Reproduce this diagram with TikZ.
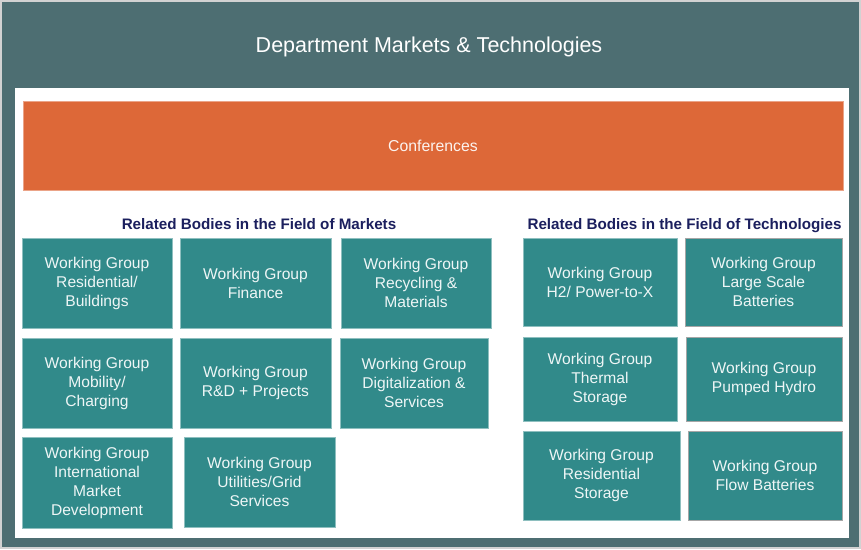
\documentclass[tikz,border=0pt]{standalone}
\usepackage{fontspec}
\setmainfont{Liberation Sans}
\definecolor{slate}{HTML}{4D6E72}
\definecolor{orangebar}{HTML}{DD6838}
\definecolor{wgteal}{HTML}{318A8A}
\definecolor{navy}{HTML}{1B1F5E}
\tikzset{
  wgbox/.style={fill=wgteal, draw=wgteal!55!white, line width=0.8pt, text=white!92!wgteal,
    align=center, inner sep=0pt, font=\fontsize{15.6}{19}\selectfont},
  heading/.style={text=navy, anchor=base, font=\fontsize{15.2}{18}\selectfont\bfseries}
}
\begin{document}
\begin{tikzpicture}[x=1pt, y=-1pt]
\useasboundingbox (0,0) rectangle (861,549);
% Rahmen
\filldraw[fill=slate, draw=gray!35, line width=1.5pt] (1,1) rectangle (860,548);
\fill[white] (15,88) rectangle (849,538);
\node[text=white, font=\fontsize{21.5}{25}\selectfont] (title) at (429,47) {Department Markets \& Technologies};

% Konferenzen
\node[fill=orangebar, draw=orangebar!60!white, line width=0.8pt, minimum width=820, minimum height=89,
  text=white!92!orangebar, font=\fontsize{15.8}{19}\selectfont] (conf) at (433,146) {Conferences};

% Märkte
\node[heading] (markets) at (259,229.5) {Related Bodies in the Field of Markets};
\node[wgbox, minimum width=150, minimum height=90] (resid) at (97,283) {Working Group\\Residential/\\Buildings};
\node[wgbox, minimum width=151, minimum height=90] (finance) at (255.5,283) {Working Group\\Finance};
\node[wgbox, minimum width=150, minimum height=90] (recycl) at (416,283) {Working Group\\Recycling \&\\Materials};
\node[wgbox, minimum width=150, minimum height=90] (mobil) at (97,383) {Working Group\\Mobility/\\Charging};
\node[wgbox, minimum width=151, minimum height=90] (rnd) at (255.5,383) {Working Group\\R\&D + Projects};
\node[wgbox, minimum width=148, minimum height=90] (digit) at (414,383) {Working Group\\Digitalization \&\\Services};
\node[wgbox, minimum width=150, minimum height=91] (intl) at (97,482.5) {Working Group\\International\\Market\\Development};
\node[wgbox, minimum width=151, minimum height=90] (util) at (259.5,482) {Working Group\\Utilities/Grid\\Services};

% Technologien
\node[heading] (techs) at (684.5,229.5) {Related Bodies in the Field of Technologies};
\node[wgbox, minimum width=154, minimum height=88] (htwo) at (600,282) {Working Group\\H2/ Power-to-X};
\node[wgbox, minimum width=157, minimum height=88, draw=gray!70] (large) at (763.5,282) {Working Group\\Large Scale\\Batteries};
\node[wgbox, minimum width=154, minimum height=84] (thermal) at (600,379) {Working Group\\Thermal\\Storage};
\node[wgbox, minimum width=156, minimum height=84, draw=gray!70] (pumped) at (764,379) {Working Group\\Pumped Hydro};
\node[wgbox, minimum width=157, minimum height=89] (resstor) at (601.5,475.5) {Working Group\\Residential\\Storage};
\node[wgbox, minimum width=154, minimum height=89, draw=gray!70] (flow) at (765,475.5) {Working Group\\Flow Batteries};
\end{tikzpicture}
\end{document}
